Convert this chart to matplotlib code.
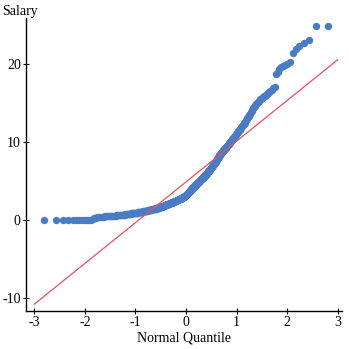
import numpy as np
import matplotlib
matplotlib.use("Agg")
import matplotlib.pyplot as plt
from statistics import NormalDist

salary = [
    0, 0, 0, 0, 0, 0, 0, 0, 0, 0,
    0, 0.1, 0.2, 0.25, 0.3, 0.4, 0.4, 0.45, 0.46, 0.47,
    0.48, 0.5, 0.51, 0.52, 0.53, 0.54, 0.55, 0.56, 0.57, 0.58,
    0.59, 0.6, 0.61, 0.62, 0.63, 0.64, 0.65, 0.66, 0.68, 0.69,
    0.70, 0.71, 0.72, 0.73, 0.74, 0.76, 0.77, 0.78, 0.79, 0.80,
    0.81, 0.82, 0.83, 0.85, 0.86, 0.87, 0.88, 0.89, 0.90, 0.91,
    0.92, 0.93, 0.94, 0.95, 0.96, 0.97, 0.98, 0.99, 1.00, 1.01,
    1.02, 1.03, 1.04, 1.05, 1.06, 1.08, 1.09, 1.10, 1.12, 1.13,
    1.14, 1.16, 1.17, 1.18, 1.20, 1.21, 1.22, 1.24, 1.25, 1.26,
    1.27, 1.29, 1.30, 1.31, 1.32, 1.34, 1.35, 1.36, 1.37, 1.38,
    1.39, 1.40, 1.41, 1.42, 1.43, 1.44, 1.45, 1.46, 1.48, 1.50,
    1.51, 1.53, 1.54, 1.56, 1.57, 1.59, 1.60, 1.61, 1.63, 1.64,
    1.66, 1.67, 1.69, 1.70, 1.72, 1.74, 1.76, 1.77, 1.79, 1.81,
    1.83, 1.84, 1.86, 1.88, 1.90, 1.91, 1.93, 1.95, 1.97, 1.98,
    2.00, 2.02, 2.03, 2.05, 2.07, 2.08, 2.10, 2.12, 2.13, 2.15,
    2.17, 2.18, 2.20, 2.22, 2.24, 2.26, 2.28, 2.30, 2.32, 2.34,
    2.36, 2.38, 2.40, 2.42, 2.43, 2.45, 2.47, 2.48, 2.50, 2.52,
    2.54, 2.56, 2.58, 2.60, 2.62, 2.64, 2.66, 2.68, 2.70, 2.72,
    2.73, 2.75, 2.77, 2.78, 2.80, 2.83, 2.86, 2.88, 2.91, 2.94,
    2.96, 2.99, 3.02, 3.04, 3.07, 3.10, 3.12, 3.15, 3.17, 3.20,
    3.24, 3.29, 3.33, 3.38, 3.42, 3.46, 3.51, 3.55, 3.60, 3.64,
    3.68, 3.73, 3.77, 3.82, 3.86, 3.90, 3.94, 3.99, 4.03, 4.08,
    4.12, 4.16, 4.21, 4.25, 4.30, 4.34, 4.38, 4.43, 4.47, 4.52,
    4.56, 4.60, 4.64, 4.69, 4.73, 4.78, 4.82, 4.86, 4.91, 4.95,
    5.00, 5.04, 5.08, 5.13, 5.17, 5.22, 5.26, 5.30, 5.34, 5.38,
    5.42, 5.46, 5.50, 5.54, 5.58, 5.62, 5.66, 5.70, 5.74, 5.78,
    5.82, 5.86, 5.90, 5.96, 6.01, 6.07, 6.13, 6.19, 6.24, 6.30,
    6.36, 6.41, 6.47, 6.53, 6.59, 6.64, 6.70, 6.76, 6.83, 6.89,
    6.96, 7.02, 7.09, 7.15, 7.21, 7.28, 7.34, 7.41, 7.47, 7.54,
    7.60, 7.70, 7.79, 7.88, 7.97, 8.06, 8.15, 8.24, 8.32, 8.40,
    8.46, 8.52, 8.57, 8.62, 8.67, 8.73, 8.80, 8.87, 8.93, 9.00,
    9.07, 9.13, 9.20, 9.27, 9.33, 9.40, 9.47, 9.55, 9.62, 9.69,
    9.76, 9.84, 9.91, 9.98, 10.05, 10.13, 10.20, 10.28, 10.36, 10.44,
    10.52, 10.60, 10.68, 10.76, 10.84, 10.92, 11.0, 11.1, 11.2, 11.3,
    11.4, 11.5, 11.6, 11.7, 11.8, 11.9, 12.0, 12.1, 12.2, 12.3,
    12.4, 12.5, 12.6, 12.8, 12.9, 13.05, 13.2, 13.35, 13.5, 13.65,
    13.8, 14.0, 14.15, 14.3, 14.45, 14.6, 14.7, 14.85, 15.0, 15.15,
    15.3, 15.45, 15.55, 15.65, 15.75, 15.85, 15.95, 16.05, 16.15, 16.25,
    16.35, 16.5, 16.65, 16.9, 17.1, 18.7, 18.9, 19.3, 19.6, 19.7,
    19.85, 20.0, 20.2, 21.4, 21.9, 22.3, 22.7, 23.0, 24.8, 24.8,
]
x_ticks = [-3, -2, -1, 0, 1, 2, 3]
y_ticks = [-10, 0, 10, 20]

plt.rcParams['font.family'] = ['Liberation Serif', 'DejaVu Serif']
plt.rcParams['axes.unicode_minus'] = False

y = np.sort(np.array(salary))
n = len(y)
nd = NormalDist()
theo = np.array([nd.inv_cdf(i / (n + 1)) for i in range(1, n + 1)])

# reference line through the quartiles
q1, q3 = np.percentile(y, [25, 75])
z1, z3 = nd.inv_cdf(0.25), nd.inv_cdf(0.75)
slope = (q3 - q1) / (z3 - z1)
intercept = q1 - slope * z1
line_x = np.array([min(x_ticks), max(x_ticks)])

fig = plt.figure(figsize=(3.49, 3.49), dpi=100)
ax = fig.add_axes([25.7 / 349, 38 / 349, 316 / 349, 292.7 / 349])

ax.plot(theo, y, 'o', color='#4a7cc4', ms=5.3, mew=0, zorder=2)
ax.plot(line_x, intercept + slope * line_x, color='#e8505b', lw=0.9, zorder=3)

ax.set_xlim(-3.17, 3.08)
ax.set_ylim(-11.6, 25.83)
ax.set_xticks(x_ticks)
ax.set_yticks(y_ticks)
ax.set_xticklabels([str(t) for t in x_ticks])
ax.set_yticklabels([str(t) for t in y_ticks])

for s in ['top', 'right']:
    ax.spines[s].set_visible(False)
for s in ['left', 'bottom']:
    ax.spines[s].set_linewidth(1.0)
ax.tick_params(direction='inout', length=4, width=0.8, labelsize=10, pad=1.5)

ax.set_xlabel('Normal Quantile', fontsize=10, labelpad=2)
fig.text(2 / 349, 1 - 12 / 349, 'Salary', fontsize=10, ha='left', va='center')

fig.savefig('out.png', dpi=100)
